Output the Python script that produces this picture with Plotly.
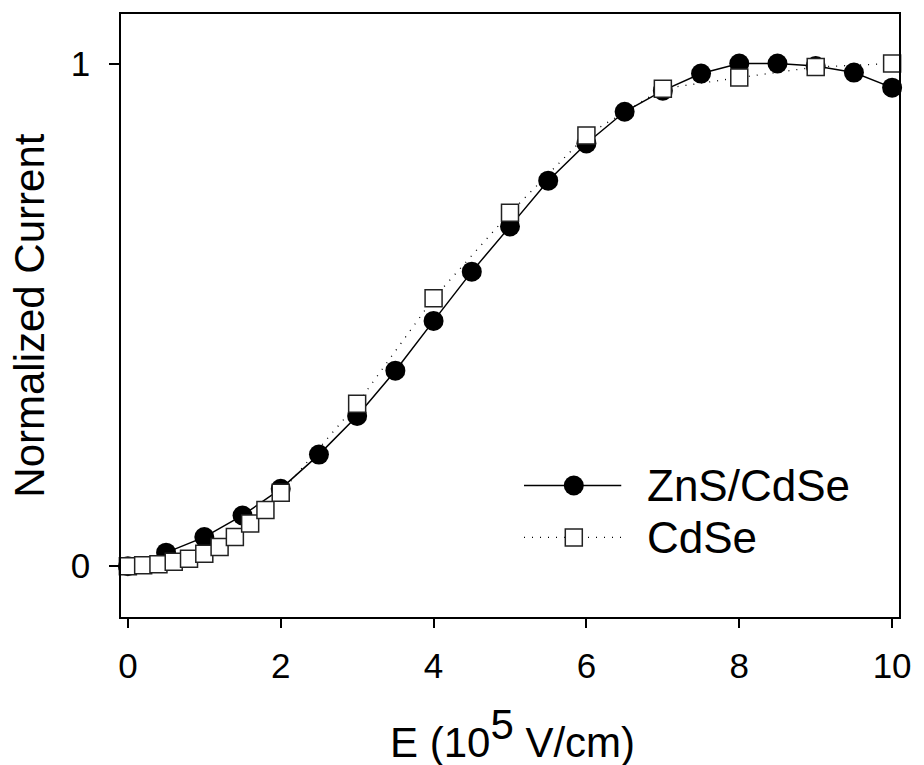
import plotly.graph_objects as go

# Field strength (10^5 V/cm) and normalized photocurrent
field_zns = [0, 0.5, 1, 1.5, 2, 2.5, 3, 3.5, 4, 4.5, 5, 5.5, 6, 6.5, 7, 7.5, 8, 8.5, 9, 9.5, 10]
current_zns = [0.0, 0.027, 0.058, 0.101, 0.154, 0.222, 0.299, 0.389, 0.488, 0.586, 0.676,
               0.767, 0.841, 0.904, 0.946, 0.980, 1.0, 1.0, 0.995, 0.982, 0.952]

field_cdse = [0, 0.2, 0.4, 0.6, 0.8, 1.0, 1.2, 1.4, 1.6, 1.8, 2.0, 3, 4, 5, 6, 7, 8, 9, 10]
current_cdse = [0.0, 0.002, 0.004, 0.009, 0.015, 0.025, 0.038, 0.058, 0.085, 0.112, 0.146,
                0.323, 0.533, 0.703, 0.857, 0.950, 0.972, 0.993, 1.0]

x_ticks = [0, 2, 4, 6, 8, 10]
y_ticks = [0, 1]
series_names = ["ZnS/CdSe", "CdSe"]

FONT = "Liberation Sans, Arial, Helvetica, sans-serif"
DOT = "1px,7px"

circle_marker = dict(symbol="circle", size=20, color="black", line=dict(width=0))
square_marker = dict(symbol="square", size=17, color="white", line=dict(width=1.5, color="#222"))

fig = go.Figure()

fig.add_trace(go.Scatter(
    x=field_zns, y=current_zns, mode="lines+markers", name=series_names[0],
    line=dict(color="black", width=1.5), marker=circle_marker,
    cliponaxis=False, showlegend=False,
))
fig.add_trace(go.Scatter(
    x=field_cdse, y=current_cdse, mode="lines+markers", name=series_names[1],
    line=dict(color="black", width=1.3, dash=DOT), marker=square_marker,
    cliponaxis=False, showlegend=False,
))

# Hand-drawn legend on a hidden overlay axis (0..1 in both directions)
legend_x0, legend_x1, legend_xm = 0.518, 0.643, 0.582
legend_rows = [0.218, 0.132]
fig.add_trace(go.Scatter(
    x=[legend_x0, legend_x1], y=[legend_rows[0]] * 2, mode="lines",
    line=dict(color="black", width=1.5), xaxis="x2", yaxis="y2",
    showlegend=False, hoverinfo="skip",
))
fig.add_trace(go.Scatter(
    x=[legend_xm], y=[legend_rows[0]], mode="markers", marker=circle_marker,
    xaxis="x2", yaxis="y2", showlegend=False, hoverinfo="skip",
))
fig.add_trace(go.Scatter(
    x=[legend_x0, legend_x1], y=[legend_rows[1]] * 2, mode="lines",
    line=dict(color="black", width=1.3, dash=DOT), xaxis="x2", yaxis="y2",
    showlegend=False, hoverinfo="skip",
))
fig.add_trace(go.Scatter(
    x=[legend_xm], y=[legend_rows[1]], mode="markers", marker=square_marker,
    xaxis="x2", yaxis="y2", showlegend=False, hoverinfo="skip",
))

annotations = [
    dict(text=series_names[0], x=0.673, y=legend_rows[0], xref="paper", yref="paper",
         xanchor="left", yanchor="middle", showarrow=False,
         font=dict(family=FONT, size=44, color="black")),
    dict(text=series_names[1], x=0.673, y=legend_rows[1], xref="paper", yref="paper",
         xanchor="left", yanchor="middle", showarrow=False,
         font=dict(family=FONT, size=44, color="black")),
    dict(text="Normalized Current", x=-0.118, y=0.5, xref="paper", yref="paper",
         xanchor="center", yanchor="middle", textangle=-90, showarrow=False,
         font=dict(family=FONT, size=42, color="black")),
    dict(text="E (10<sup><span style='font-size:42px'>5</span></sup> V/cm)",
         x=0.503, y=-0.193, xref="paper", yref="paper",
         xanchor="center", yanchor="middle", showarrow=False,
         font=dict(family=FONT, size=42, color="black")),
]

axis_common = dict(
    showline=True, linecolor="black", linewidth=1.5, mirror=True,
    ticks="outside", tickcolor="black", tickwidth=1.5,
    showgrid=False, zeroline=False, ticklabeloverflow="allow",
    tickfont=dict(family=FONT, size=35, color="black"),
)

fig.update_layout(
    width=924, height=765,
    margin=dict(l=121, r=16, t=12, b=148),
    paper_bgcolor="white", plot_bgcolor="white",
    xaxis=dict(range=[-0.09, 10.09], tickvals=x_ticks, ticklen=9,
               ticklabelstandoff=8, **axis_common),
    yaxis=dict(range=[-0.101, 1.0985], tickvals=y_ticks, ticklen=10,
               ticklabelstandoff=12, **axis_common),
    xaxis2=dict(range=[0, 1], overlaying="x", visible=False, anchor="y2"),
    yaxis2=dict(range=[0, 1], overlaying="y", visible=False, anchor="x2"),
    annotations=annotations,
    showlegend=False,
)

fig.write_html("out.html")
